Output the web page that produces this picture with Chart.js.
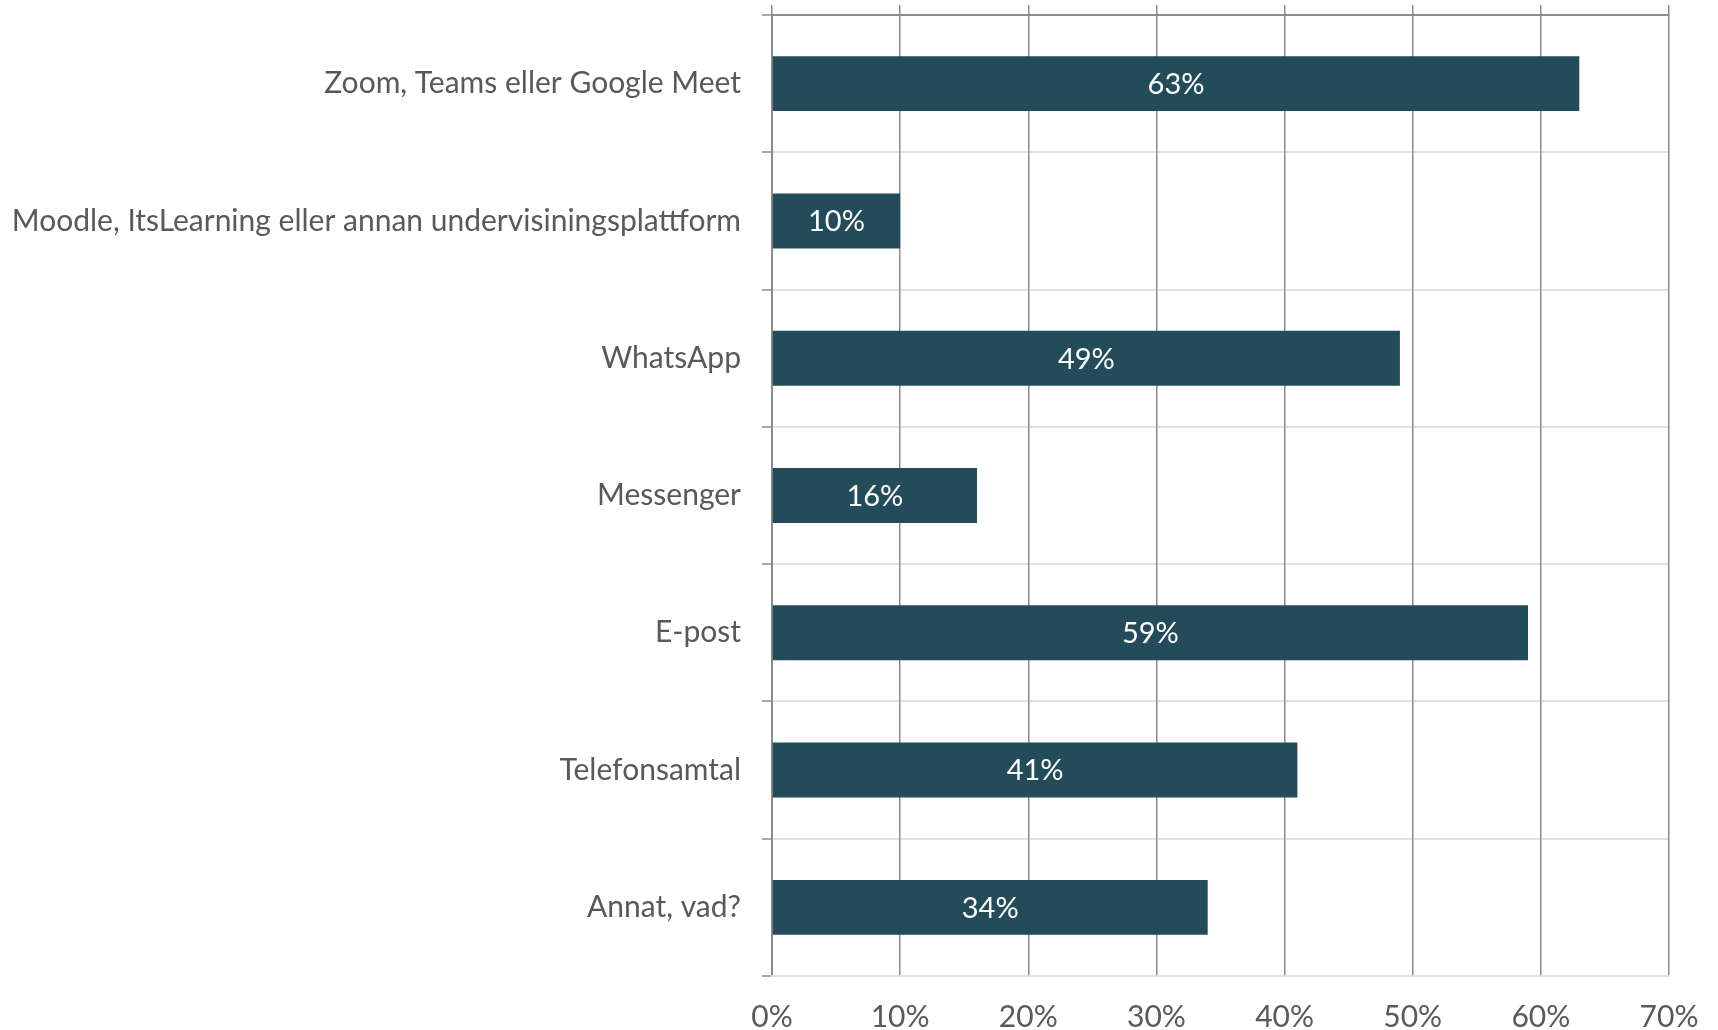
<!DOCTYPE html>
<html>
<head>
  <title>Kanaler</title>
  <script src="https://cdn.jsdelivr.net/npm/chart.js"></script>
  <style>
    body {
      margin: 0;
      padding: 0;
      background: #fff;
    }
    #chart {
      display: block;
    }
  </style>
</head>
<body>
  <canvas id="chart" width="1718" height="1030"></canvas>
  <script>
    const categories = [
      'Zoom, Teams eller Google Meet',
      'Moodle, ItsLearning eller annan undervisiningsplattform',
      'WhatsApp',
      'Messenger',
      'E-post',
      'Telefonsamtal',
      'Annat, vad?'
    ];
    const values = [63, 10, 49, 16, 59, 41, 34];
    const axisMax = 70;
    const axisStep = 10;

    const textFont = { family: 'Lato, "Open Sans", sans-serif', size: 30, lineHeight: 1 };
    const textColor = '#595959';
    const darkLine = '#8c8c8c';
    const lightLine = '#e0e0e0';

    // white value labels in the middle of each bar
    const barLabels = {
      id: 'barLabels',
      afterDatasetsDraw(chart) {
        const ctx = chart.ctx;
        const meta = chart.getDatasetMeta(0);
        ctx.save();
        ctx.fillStyle = '#ffffff';
        ctx.font = '29px Lato, "Open Sans", sans-serif';
        ctx.textAlign = 'center';
        ctx.textBaseline = 'middle';
        meta.data.forEach((bar, i) => {
          ctx.fillText(values[i] + '%', (bar.x + bar.base) / 2, bar.y + 1);
        });
        ctx.restore();
      }
    };

    new Chart(document.getElementById('chart').getContext('2d'), {
      type: 'bar',
      data: {
        labels: categories,
        datasets: [{
          data: values,
          backgroundColor: '#234b59',
          borderWidth: 0,
          barPercentage: 0.4,
          categoryPercentage: 1
        }]
      },
      options: {
        indexAxis: 'y',
        responsive: false,
        animation: false,
        layout: { padding: { top: 5, right: 49, left: 0, bottom: 0 } },
        plugins: {
          legend: { display: false },
          tooltip: { enabled: false }
        },
        scales: {
          y: {
            grid: {
              color: lightLine,
              lineWidth: 2,
              offset: true,
              tickColor: darkLine,
              tickLength: 10,
              tickWidth: 1.5
            },
            border: { color: darkLine, width: 2 },
            ticks: { padding: 21, font: textFont, color: textColor },
            afterFit(scale) {
              scale.width = 772;
              scale.paddingTop = 0;
              scale.paddingBottom = 0;
            }
          },
          x: {
            position: 'bottom',
            min: 0,
            max: axisMax,
            ticks: {
              stepSize: axisStep,
              padding: 26,
              font: textFont,
              color: textColor,
              callback: v => v + '%'
            },
            grid: { color: darkLine, lineWidth: 1.5, drawTicks: false },
            border: { color: lightLine, width: 2 },
            afterFit(scale) {
              scale.height = 54;
              scale.paddingRight = 0;
              scale.paddingLeft = 0;
            }
          },
          x2: {
            type: 'linear',
            axis: 'x',
            position: 'top',
            min: 0,
            max: axisMax,
            ticks: { display: false, stepSize: axisStep },
            grid: { drawOnChartArea: false, tickLength: 10, color: darkLine, lineWidth: 1.5 },
            border: { color: darkLine, width: 2 },
            afterFit(scale) {
              scale.paddingRight = 0;
              scale.paddingLeft = 0;
            }
          }
        }
      },
      plugins: [barLabels]
    });
  </script>
</body>
</html>
